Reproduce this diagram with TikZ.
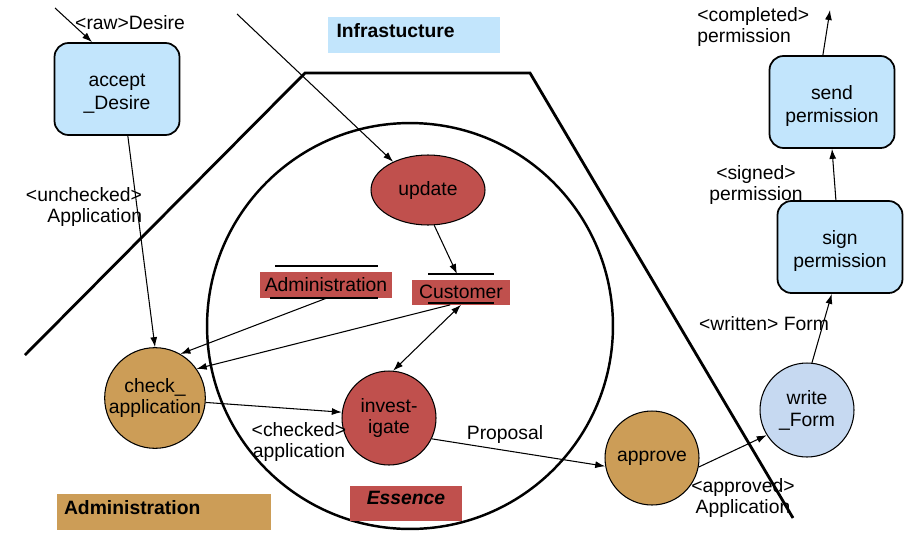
\documentclass[tikz,border=0pt]{standalone}
\usepackage{fontspec}
\setmainfont{Liberation Sans}
\usetikzlibrary{arrows.meta,shapes.geometric}

\definecolor{paleblue}{HTML}{C2E5FC}
\definecolor{formblue}{HTML}{C6D9F1}
\definecolor{essred}{HTML}{C0504D}
\definecolor{admtan}{HTML}{CC9D57}

\tikzset{
  process/.style={draw, line width=1pt, rounded corners=0.28cm, fill=paleblue,
    align=center, minimum width=2.5cm, minimum height=1.84cm, text height=9mm,
    font=\fontsize{11}{13.2}\selectfont},
  activity/.style={draw, line width=0.6pt, circle, align=center, inner sep=0pt,
    minimum size=1.88cm},
  store/.style={fill=essred, inner sep=1pt},
  area/.style={text depth=0.2cm, font=\fontsize{11}{12.5}\selectfont\bfseries},
  tag/.style={align=center, inner sep=0pt},
  flow/.style={-{Latex[length=2mm,width=1.4mm]}, line width=0.6pt},
  border/.style={line width=1.6pt}
}

\begin{document}
\begin{tikzpicture}[x=0.02cm, y=-0.02cm, font=\fontsize{11}{12.5}\selectfont]

  \useasboundingbox (0,0) rectangle (908,534);

  % Domain borders
  \draw[border] (25,355) -- (305,73) -- (530,73) -- (793,518);
  \draw[line width=1.4pt] (410,326) circle[radius=4.06cm];

  % Area labels
  \node[area, fill=paleblue, minimum width=3.44cm, minimum height=0.7cm,
    text width=3.1cm] (infra) at (414,35) {Infrastucture};
  \node[area, fill=admtan, minimum width=4.3cm, minimum height=0.66cm,
    text width=4cm] (admarea) at (164,512) {Administration};
  \node[area, fill=essred, minimum width=2.24cm, minimum height=0.68cm,
    font=\fontsize{11}{12.5}\selectfont\bfseries\itshape] (essence) at (406,503) {Essence};

  % Processes
  \node[process] (accept) at (117,89) {accept\\\_Desire};
  \node[process] (send) at (832,102) {send\\permission};
  \node[process] (sign) at (840,247) {sign\\permission};

  % Activities
  \node[activity, fill=admtan] (check) at (155,398) {check\_\\application};
  \node[activity, fill=essred] (inv) at (389,418) {invest-\\igate};
  \node[activity, fill=admtan] (approve) at (652,458) {approve};
  \node[activity, fill=formblue] (write) at (807,410) {write\\\_Form};
  \node[draw, line width=0.6pt, ellipse, fill=essred, minimum width=2.28cm,
    minimum height=1.4cm] (upd) at (428,190) {update};

  % Data stores
  \node[store, minimum width=2.64cm, minimum height=0.52cm] (admstore) at (326,285) {Administration};
  \node[store, minimum width=1.96cm, minimum height=0.5cm] (cust) at (461,292) {Customer};
  \draw[line width=0.8pt] (275,266) -- (378,266);
  \draw[line width=0.8pt] (270,298) -- (378,298);
  \draw[line width=0.8pt] (428,274) -- (494,274);
  \draw[line width=0.8pt] (428,303) -- (494,303);
  \coordinate (custtop) at (457,274);

  % Free ends
  \coordinate (rawin) at (55,8);
  \coordinate (infrain) at (237,14);
  \coordinate (permout) at (830,10);

  % Flows
  \draw[flow] (rawin) -- (accept.118);
  \draw[flow] (infrain) -- (upd.141);
  \draw[flow] (upd.-80) -- (custtop);
  \draw[flow] (accept.-77) -- (check.north);
  \draw[flow] (admstore.south) -- (check.60);
  \draw[flow] (cust.230) -- (check.35);
  \draw[flow, {Latex[length=2mm,width=1.4mm]}-{Latex[length=2mm,width=1.4mm]}] (cust.south) -- (inv.85);
  \draw[flow] (check.-5) -- (inv.173);
  \draw[flow] (inv.-26) -- (approve.190);
  \draw[flow] (approve.-11) -- (write.212);
  \draw[flow] (write.84) -- (sign.260);
  \draw[flow] (sign.95) -- (send.south);
  \draw[flow] (send.101) -- (permout);

  % Flow labels
  \node[tag] (lraw) at (130,23) {<raw>Desire};
  \node[tag, align=right] (lunchecked) at (84,207) {<unchecked>\\Application};
  \node[tag] (lchecked) at (299,442) {<checked>\\application};
  \node[tag] (lproposal) at (505,434) {Proposal};
  \node[tag] (lapproved) at (743,498) {<approved>\\Application};
  \node[tag] (lwritten) at (764,324) {<written> Form};
  \node[tag] (lsigned) at (756,185) {<signed>\\permission};
  \node[tag, align=left, anchor=west] (lcompleted) at (697,27) {<completed>\\permission};

\end{tikzpicture}
\end{document}
